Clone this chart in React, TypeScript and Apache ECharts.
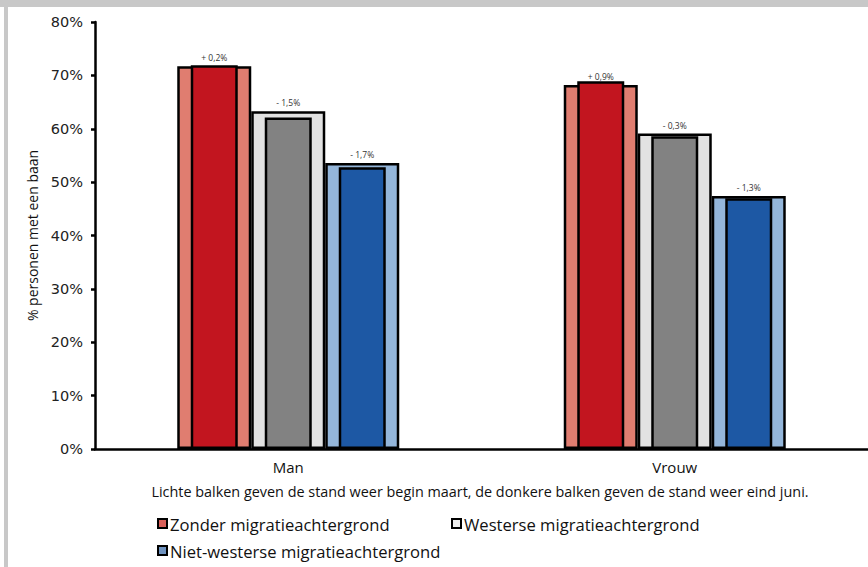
import React, { useEffect, useRef } from "react";
import * as echarts from "echarts";

const categories = ["Man", "Vrouw"];
const groups = ["Zonder migratieachtergrond", "Westerse migratieachtergrond", "Niet-westerse migratieachtergrond"];
// begin maart (light bars)
const beginMaart = [
  [71.7, 68.2],
  [63.3, 59.1],
  [53.6, 47.4],
];
// eind juni (dark bars)
const eindJuni = [
  [71.9, 68.9],
  [62.1, 58.6],
  [52.8, 47.0],
];
const changeLabels = [
  ["+ 0,2%", "+ 0,9%"],
  ["- 1,5%", "- 0,3%"],
  ["- 1,7%", "- 1,3%"],
];
const yTicks = [0, 10, 20, 30, 40, 50, 60, 70, 80];

const lightColors = ["#e07d70", "#e2e2e2", "#94b6da"];
const darkColors = ["#c2151f", "#828282", "#1d58a4"];
const legendIconColors = ["#d9605a", "#ececec", "#6f93c0"];

export default function App() {
  const ref = useRef<HTMLDivElement>(null);
  useEffect(() => {
    if (!ref.current) return;
    const chart = echarts.init(ref.current, null, { renderer: "svg" });
    const font = "'Open Sans', sans-serif";
    const series: any[] = [];
    groups.forEach((g, i) => {
      series.push({
        name: g + " (begin maart)",
        type: "bar",
        xAxisIndex: 0,
        barWidth: 74,
        barGap: "0%",
        data: beginMaart[i].map((v, j) => ({
          value: v,
          label: { formatter: changeLabels[i][j] },
        })),
        itemStyle: { color: lightColors[i], borderColor: "#000", borderWidth: 2.5 },
        label: { show: true, position: "top", distance: 4, fontSize: 8.5, color: "#333", fontFamily: font },
      });
    });
    groups.forEach((g, i) => {
      series.push({
        name: g,
        type: "bar",
        xAxisIndex: 1,
        barWidth: 47,
        barGap: "57.45%",
        data: eindJuni[i],
        itemStyle: { color: darkColors[i], borderColor: "#000", borderWidth: 2.5 },
      });
    });

    const legendGraphics: any[] = [];
    const legendPos = [
      [158, 519],
      [452, 519],
      [158, 546],
    ];
    groups.forEach((g, i) => {
      legendGraphics.push({
        type: "rect",
        shape: { x: legendPos[i][0], y: legendPos[i][1], width: 9, height: 9 },
        style: { fill: legendIconColors[i], stroke: "#000", lineWidth: 2 },
      });
      legendGraphics.push({
        type: "text",
        x: legendPos[i][0] + 12,
        y: legendPos[i][1] + 5,
        style: { text: g, fontSize: 16.6, fontFamily: font, fill: "#111", verticalAlign: "middle" },
      });
    });

    chart.setOption({
      animation: false,
      backgroundColor: "#fff",
      grid: { left: 95, right: 0, top: 22, bottom: 118 },
      xAxis: [
        {
          type: "category",
          data: categories,
          axisLine: { lineStyle: { color: "#000", width: 2.5 } },
          axisTick: { show: false },
          axisLabel: { fontSize: 15, color: "#111", fontFamily: font, margin: 10 },
        },
        {
          type: "category",
          data: categories,
          show: false,
        },
      ],
      yAxis: {
        type: "value",
        min: 0,
        max: 80,
        interval: 10,
        name: "% personen met een baan",
        nameLocation: "middle",
        nameGap: 56,
        nameTextStyle: { fontSize: 14, color: "#111", fontFamily: font },
        axisLine: { show: true, lineStyle: { color: "#000", width: 2.5 } },
        axisTick: { show: true, length: 4, lineStyle: { color: "#000", width: 2.5 } },
        splitLine: { show: false },
        axisLabel: {
          fontSize: 14.5,
          color: "#222",
          fontFamily: "'DejaVu Sans', sans-serif",
          margin: 12,
          formatter: (v: number) => (yTicks.includes(v) ? v + "%" : ""),
        },
      },
      series,
      graphic: [
        { type: "rect", shape: { x: 0, y: 0, width: 868, height: 7 }, style: { fill: "#c8c8c8" }, z: 100 },
        { type: "rect", shape: { x: 4, y: 0, width: 4, height: 567 }, style: { fill: "#c8c8c8" }, z: 100 },
        {
          type: "text",
          x: 480,
          y: 491,
          style: {
            text: "Lichte balken geven de stand weer begin maart, de donkere balken geven de stand weer eind juni.",
            fontSize: 14.4,
            fontFamily: font,
            fill: "#111",
            align: "center",
            verticalAlign: "middle",
          },
        },
        ...legendGraphics,
      ],
    });
    return () => chart.dispose();
  }, []);
  return <div ref={ref} style={{ width: 868, height: 567, position: "absolute", left: 0, top: 0 }} />;
}
